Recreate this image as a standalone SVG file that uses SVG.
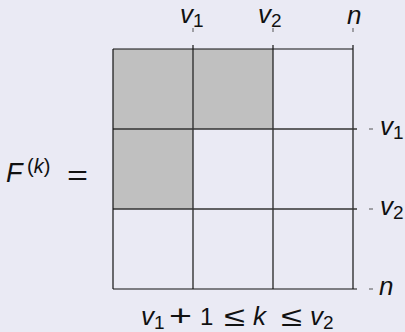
<svg xmlns="http://www.w3.org/2000/svg" width="405" height="332" viewBox="0 0 405 332">
<style>
.t{font-family:"Liberation Sans","DejaVu Sans",sans-serif;fill:#111}
.i{font-style:italic}
.m{font-size:26px}
.s{font-size:19px}
.g{stroke:#333;stroke-width:1.4;fill:none}
.b{stroke:#111;stroke-width:1.2;fill:none}
.d{stroke:#555;stroke-width:1}
</style>
<rect x="0" y="0" width="405" height="332" fill="#eaeaf4"/>
<g id="matrix">
<rect x="113" y="49" width="160" height="80" fill="#c0c0c0"/>
<rect x="113" y="129" width="80" height="80" fill="#c0c0c0"/>
</g>
<g id="connectors">
<line class="g" x1="193" y1="45" x2="193" y2="289"/>
<line class="g" x1="273" y1="45" x2="273" y2="289"/>
<line class="b" x1="353" y1="45" x2="353" y2="289"/>
<line class="g" x1="113" y1="129" x2="357" y2="129"/>
<line class="g" x1="113" y1="209" x2="357" y2="209"/>
<line class="b" x1="113" y1="289" x2="357" y2="289"/>
<line class="b" x1="113" y1="49" x2="353" y2="49"/>
<line class="b" x1="113" y1="49" x2="113" y2="289"/>
<line class="d" x1="193" y1="28" x2="193" y2="32"/>
<line class="d" x1="273" y1="28" x2="273" y2="32"/>
<line class="d" x1="353" y1="28" x2="353" y2="32"/>
<line class="d" x1="369" y1="129" x2="373" y2="129"/>
<line class="d" x1="369" y1="209" x2="373" y2="209"/>
<line class="d" x1="369" y1="289" x2="373" y2="289"/>
</g>
<g id="top-labels">
<text class="t i m" x="180" y="23">v</text><text class="t s" x="193" y="27">1</text>
<text class="t i m" x="258" y="23">v</text><text class="t s" x="271" y="27">2</text>
<text class="t i m" x="347" y="24">n</text>
</g>
<g id="right-labels">
<text class="t i m" x="380" y="135">v</text><text class="t s" x="393" y="139">1</text>
<text class="t i m" x="380" y="215">v</text><text class="t s" x="393" y="219">2</text>
<text class="t i m" x="379" y="295">n</text>
</g>
<g id="lhs">
<text class="t i" font-size="27" x="6" y="182">F</text>
<text class="t" font-size="20" x="27" y="173">(<tspan font-style="italic">k</tspan>)</text>
<text class="t" font-size="28" x="67" y="185" textLength="21" lengthAdjust="spacingAndGlyphs">=</text>
</g>
<g id="bottom-label">
<text class="t i m" x="141" y="325">v</text><text class="t s" x="154" y="329">1</text>
<text class="t" font-size="30" x="169" y="326" textLength="23" lengthAdjust="spacingAndGlyphs">+</text>
<text class="t" font-size="24" x="200" y="325">1</text>
<text class="t" font-size="28" x="224" y="326" textLength="21" lengthAdjust="spacingAndGlyphs">≤</text>
<text class="t i m" x="253" y="325">k</text>
<text class="t" font-size="28" x="281" y="326" textLength="21" lengthAdjust="spacingAndGlyphs">≤</text>
<text class="t i m" x="310" y="325">v</text><text class="t s" x="323" y="329">2</text>
</g>
</svg>
